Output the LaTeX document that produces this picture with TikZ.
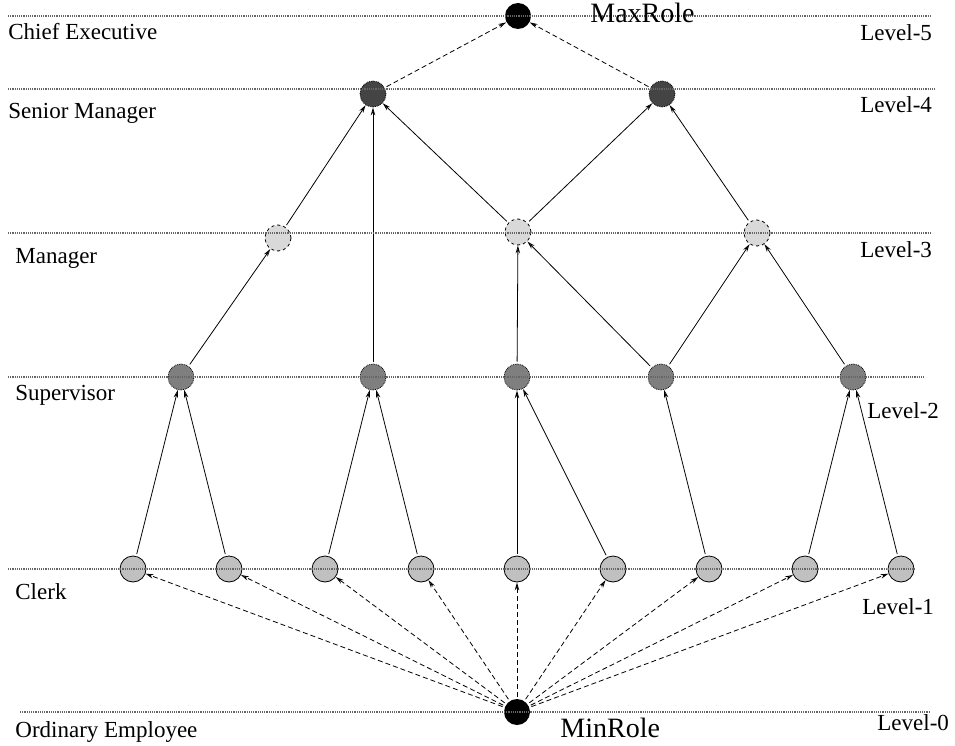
\documentclass[tikz,border=0pt]{standalone}
\usepackage{fontspec}
\setmainfont{Liberation Serif}
\usetikzlibrary{arrows.meta}
\definecolor{seniorgray}{HTML}{444444}
\definecolor{managergray}{HTML}{D9D9D9}
\definecolor{supervisorgray}{HTML}{7F7F7F}
\definecolor{clerkgray}{HTML}{C0C0C0}
\tikzset{
  role/.style={circle, minimum size=26pt, inner sep=0pt},
  toprole/.style={role, fill=black},
  senior/.style={role, draw, densely dotted, fill=seniorgray},
  manager/.style={role, draw, dashed, fill=managergray},
  supervisor/.style={role, draw, densely dotted, fill=supervisorgray},
  clerk/.style={role, draw, fill=clerkgray},
  level/.style={black!60, densely dotted, line width=1.2pt},
  lbl/.style={anchor=base west, inner sep=0pt, font=\fontsize{23}{26}\selectfont},
  rolename/.style={anchor=base west, inner sep=0pt, font=\fontsize{28}{32}\selectfont},
  grant/.style={-{Stealth[open,length=8pt,width=4.5pt]}, shorten <=2pt},
  inherit/.style={grant, dash pattern=on 5pt off 3pt},
}
\begin{document}
\begin{tikzpicture}[x=1pt,y=-1pt,line width=0.8pt]
      \useasboundingbox (0,0) rectangle (955,746);

      \node[toprole] (maxr) at (518,16) {};
      \node[senior] (sm1) at (373,94) {};
      \node[senior] (sm2) at (662,94) {};
      \node[manager] (mg1) at (278,238) {};
      \node[manager] (mg2) at (518,232) {};
      \node[manager] (mg3) at (757,233) {};
      \foreach \x [count=\i] in {181,373,517,661,853}
        \node[supervisor] (sv\i) at (\x,377) {};
      \foreach \x [count=\i] in {133,229,325,421,517,613,709,805,901}
        \node[clerk] (ck\i) at (\x,569) {};
      \node[toprole] (minr) at (517,712) {};

      \foreach \a/\b in {1/1,2/1,3/2,4/2,5/3,6/3,7/4,8/5,9/5}
        \draw[grant] (ck\a) -- (sv\b);
      \draw[grant] (sv1) -- (mg1);
      \draw[grant] (sv2) -- (sm1);
      \draw[grant] (sv3) -- (mg2);
      \draw[grant] (sv4) -- (mg2);
      \draw[grant] (sv4) -- (mg3);
      \draw[grant] (sv5) -- (mg3);
      \draw[grant] (mg1) -- (sm1);
      \draw[grant] (mg2) -- (sm1);
      \draw[grant] (mg2) -- (sm2);
      \draw[grant] (mg3) -- (sm2);
      \draw[inherit] (sm1) -- (maxr);
      \draw[inherit] (sm2) -- (maxr);
      \foreach \i in {1,...,9}
        \draw[inherit] (minr) -- (ck\i);

      \draw[level] (8,16)--(932,16);
      \draw[level] (8,89)--(935,89);
      \draw[level] (8,233)--(930,233);
      \draw[level] (8,377)--(925,377);
      \draw[level] (8,569)--(915,569);
      \draw[level] (20,712)--(930,712);

      \node[lbl] (l5) at (8,40) {Chief Executive};
      \node[lbl] (l4) at (8,119) {Senior Manager};
      \node[lbl] (l3) at (15,263) {Manager};
      \node[lbl] (l2) at (15,400) {Supervisor};
      \node[lbl] (l1) at (15,599) {Clerk};
      \node[lbl] (l0) at (15,737) {Ordinary Employee};

      \node[lbl] (n5) at (860,41) {Level-5};
      \node[lbl] (n4) at (860,113) {Level-4};
      \node[lbl] (n3) at (860,257) {Level-3};
      \node[lbl] (n2) at (867,418) {Level-2};
      \node[lbl] (n1) at (862,614) {Level-1};
      \node[lbl] (n0) at (877,730) {Level-0};

      \node[rolename] (maxname) at (590,23) {MaxRole};
      \node[rolename] (minname) at (560,737) {MinRole};
    \end{tikzpicture}
\end{document}
